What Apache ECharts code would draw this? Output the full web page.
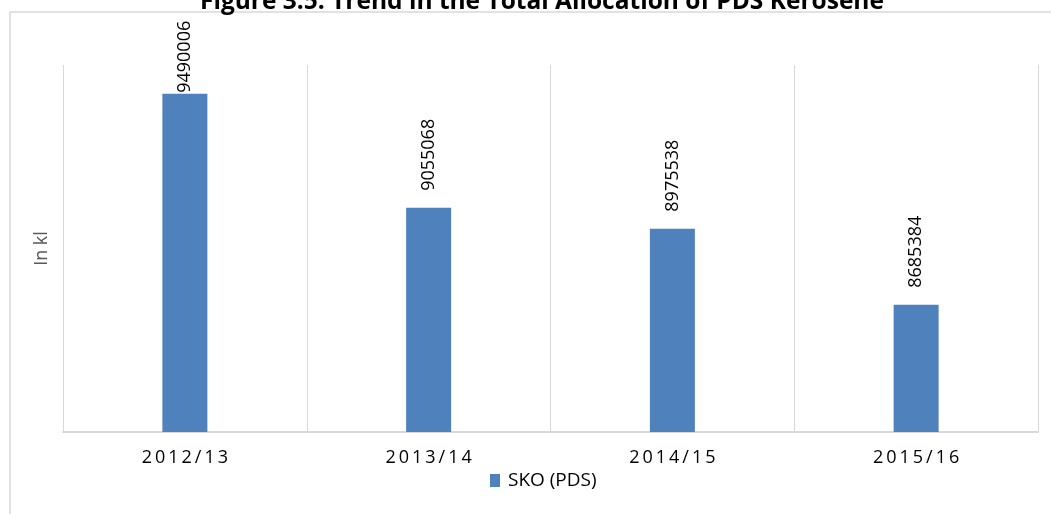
<!DOCTYPE html>
<html>
<head>
<meta charset="utf-8">
<script src="https://cdn.jsdelivr.net/npm/echarts@6/dist/echarts.min.js"></script>
<style>
  html, body { margin: 0; padding: 0; background: #fff; }
  #chart { width: 1051px; height: 514px; }
</style>
</head>
<body>
<div id="chart"></div>
<script>
// data
const categories = ['2012/13', '2013/14', '2014/15', '2015/16'];
const skoPds = [9490006, 9055068, 8975538, 8685384];
const seriesName = 'SKO (PDS)';

const chart = echarts.init(document.getElementById('chart'));

const barData = skoPds.map((v, i) => {
  // first label gets squeezed down onto the bar like in the original
  if (i === 0) return { value: v, label: { distance: 1 } };
  return v;
});

const option = {
  backgroundColor: '#fff',
  animation: false,
  textStyle: { fontFamily: 'Open Sans, sans-serif' },
  title: {
    text: 'Figure 3.5: Trend in the Total Allocation of PDS Kerosene',
    left: 195,
    top: -15,
    textStyle: { fontSize: 24.5, fontWeight: 'bold', color: '#000', fontFamily: 'Open Sans, sans-serif' }
  },
  grid: { left: 63, right: 13, top: 65, bottom: 82 },
  legend: {
    data: [seriesName],
    bottom: 19,
    left: 485,
    icon: 'rect',
    itemWidth: 10,
    itemHeight: 13,
    itemGap: 4,
    textStyle: { fontSize: 19, color: '#000', padding: [0, 0, 0, 3] }
  },
  xAxis: {
    type: 'category',
    data: categories,
    axisLine: { lineStyle: { color: '#d9d9d9', width: 2 } },
    axisTick: { show: false },
    splitLine: { show: true, interval: 0, lineStyle: { color: '#d9d9d9', width: 1 } },
    axisLabel: {
      margin: 17,
      fontSize: 18,
      color: '#000',
      formatter: (s) => s.split('').join('\u2009')
    }
  },
  yAxis: {
    type: 'value',
    min: 8200000,
    max: 9600000,
    name: 'In kl',
    nameLocation: 'middle',
    nameGap: 12,
    nameTextStyle: { fontSize: 18, color: '#595959' },
    axisLabel: { show: false },
    axisLine: { show: false },
    axisTick: { show: false },
    splitLine: { show: false }
  },
  graphic: [
    { type: 'line', shape: { x1: 10, y1: 12, x2: 1051, y2: 12 }, style: { stroke: '#d9d9d9', lineWidth: 1.5 } },
    { type: 'line', shape: { x1: 10, y1: 12, x2: 10, y2: 514 }, style: { stroke: '#d9d9d9', lineWidth: 1.5 } }
  ],
  series: [
    {
      name: seriesName,
      type: 'bar',
      data: barData,
      barWidth: 45,
      itemStyle: { color: '#4f81bd' },
      label: {
        show: true,
        position: 'top',
        rotate: 90,
        align: 'left',
        verticalAlign: 'middle',
        distance: 17,
        fontSize: 18,
        color: '#000'
      }
    }
  ]
};

chart.setOption(option);
</script>
</body>
</html>
